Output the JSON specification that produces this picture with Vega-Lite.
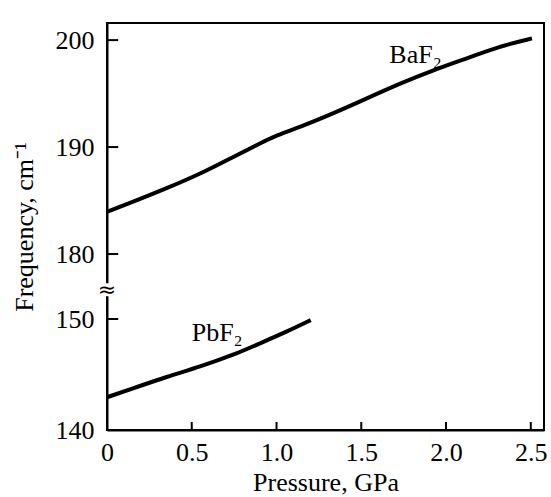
{
  "$schema": "https://vega.github.io/schema/vega-lite/v6.json",
  "width": 437,
  "height": 407,
  "autosize": {"type": "none"},
  "padding": {"left": 107, "top": 23, "right": 7, "bottom": 67},
  "background": "white",
  "config": {
    "view": {"stroke": "black", "strokeWidth": 2},
    "font": "Liberation Serif",
    "axis": {
      "labelFont": "Liberation Serif",
      "titleFont": "Liberation Serif",
      "labelFontSize": 26,
      "titleFontSize": 26,
      "titleFontWeight": "normal",
      "labelColor": "black",
      "titleColor": "black",
      "domainColor": "black",
      "domainWidth": 2,
      "ticks": false,
      "grid": false
    }
  },
  "datasets": {
    "curves": [
      {"compound": "BaF2", "P": 0.0, "f": 183.95},
      {"compound": "BaF2", "P": 0.155, "f": 184.89},
      {"compound": "BaF2", "P": 0.352, "f": 186.14},
      {"compound": "BaF2", "P": 0.549, "f": 187.48},
      {"compound": "BaF2", "P": 0.746, "f": 189.09},
      {"compound": "BaF2", "P": 0.903, "f": 190.35},
      {"compound": "BaF2", "P": 1.002, "f": 191.12},
      {"compound": "BaF2", "P": 1.139, "f": 191.87},
      {"compound": "BaF2", "P": 1.336, "f": 193.15},
      {"compound": "BaF2", "P": 1.533, "f": 194.55},
      {"compound": "BaF2", "P": 1.73, "f": 195.95},
      {"compound": "BaF2", "P": 1.926, "f": 197.2},
      {"compound": "BaF2", "P": 2.123, "f": 198.29},
      {"compound": "BaF2", "P": 2.32, "f": 199.44},
      {"compound": "BaF2", "P": 2.507, "f": 200.16},
      {"compound": "PbF2", "P": 0.0, "f": 142.95},
      {"compound": "PbF2", "P": 0.155, "f": 143.76},
      {"compound": "PbF2", "P": 0.352, "f": 144.8},
      {"compound": "PbF2", "P": 0.549, "f": 145.7},
      {"compound": "PbF2", "P": 0.746, "f": 146.76},
      {"compound": "PbF2", "P": 0.903, "f": 147.81},
      {"compound": "PbF2", "P": 1.061, "f": 148.86},
      {"compound": "PbF2", "P": 1.202, "f": 149.9}
    ],
    "labels": [
      {"text": "BaF₂", "P": 1.82, "f": 198.6},
      {"text": "PbF₂", "P": 0.65, "f": 148.7}
    ],
    "yticks": [{"f": 150}, {"f": 180}, {"f": 190}, {"f": 200}],
    "xticks": [{"P": 0.5}, {"P": 1.0}, {"P": 1.5}, {"P": 2.0}, {"P": 2.5}]
  },
  "layer": [
    {
      "data": {"name": "curves"},
      "mark": {"type": "line", "color": "black", "strokeWidth": 4, "interpolate": "basis", "strokeCap": "butt"},
      "encoding": {
        "x": {
          "field": "P", "type": "quantitative",
          "scale": {"domain": [0, 2.578], "nice": false, "zero": false},
          "axis": {
            "title": "Pressure, GPa",
            "values": [0, 0.5, 1, 1.5, 2, 2.5],
            "labelExpr": "datum.value == 0 ? '0' : format(datum.value, '.1f')",
            "labelPadding": 9,
            "titlePadding": 4,
            "labelFlush": false
          }
        },
        "y": {
          "field": "f", "type": "quantitative",
          "scale": {"domain": [140, 150, 180, 201.6], "range": [407, 296, 231, 0], "nice": false, "zero": false},
          "axis": {
            "title": "Frequency, cm⁻¹",
            "values": [140, 150, 180, 190, 200],
            "labelPadding": 13,
            "titlePadding": 18,
            "labelFlush": false
          }
        },
        "detail": {"field": "compound"}
      }
    },
    {
      "data": {"name": "yticks"},
      "mark": {"type": "rule", "color": "black", "strokeWidth": 2},
      "encoding": {
        "x": {"datum": 0, "type": "quantitative"},
        "x2": {"datum": 0.066},
        "y": {"field": "f", "type": "quantitative"}
      }
    },
    {
      "data": {"name": "xticks"},
      "mark": {"type": "rule", "color": "black", "strokeWidth": 2},
      "encoding": {
        "x": {"field": "P", "type": "quantitative"},
        "y": {"datum": 140, "type": "quantitative"},
        "y2": {"datum": 140.72}
      }
    },
    {
      "data": {"values": [{}]},
      "mark": {"type": "rect", "color": "white"},
      "encoding": {
        "x": {"datum": -0.03, "type": "quantitative"},
        "x2": {"datum": 0.03},
        "y": {"datum": 160.5, "type": "quantitative"},
        "y2": {"datum": 166.5}
      }
    },
    {
      "data": {"values": [{}]},
      "mark": {"type": "text", "text": "≈", "fontSize": 22, "font": "DejaVu Sans", "color": "black"},
      "encoding": {
        "x": {"datum": 0, "type": "quantitative"},
        "y": {"datum": 163.5, "type": "quantitative"}
      }
    },
    {
      "data": {"name": "labels"},
      "mark": {"type": "text", "fontSize": 26, "font": "Liberation Serif", "color": "black"},
      "encoding": {
        "x": {"field": "P", "type": "quantitative"},
        "y": {"field": "f", "type": "quantitative"},
        "text": {"field": "text"}
      }
    }
  ]
}
